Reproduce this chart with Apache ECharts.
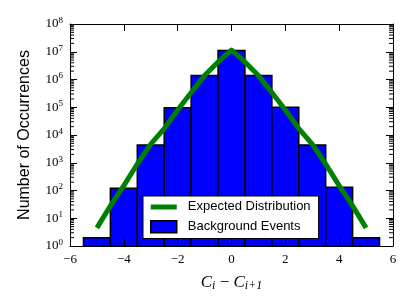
<!DOCTYPE html>
<html>
<head>
<meta charset="utf-8">
<script src="https://cdn.jsdelivr.net/npm/echarts@6/dist/echarts.min.js"></script>
<style>html,body{margin:0;padding:0;background:#fff}#c{width:415px;height:308px}</style>
</head>
<body>
<div id="c"></div>
<script>
// Histogram bars (bin centers, counts)
const barCenters = [-5, -4, -3, -2, -1, 0, 1, 2, 3, 4, 5];
const barCounts = [2, 120, 4400, 95000, 1400000, 11000000, 1400000, 100000, 4400, 130, 2];
// Expected distribution curve
const curveX = [-5, -4.5, -4, -3.5, -3, -2.5, -2, -1.5, -1, -0.5, 0, 0.5, 1, 1.5, 2, 2.5, 3, 3.5, 4, 4.5, 5];
const curveY = [4.5, 28, 150, 900, 4700, 17000, 80000, 340000, 1380000, 4300000, 11500000,
                4300000, 1380000, 340000, 80000, 17000, 4700, 900, 150, 28, 4.5];
// Axis ranges / ticks
const xMin = -6, xMax = 6, xStep = 2;
const yMin = 1, yMax = 1e8;
const minorMultipliers = [2, 3, 4, 5, 6, 7, 8, 9];
const decades = [1, 10, 100, 1000, 1e4, 1e5, 1e6, 1e7];

const minorVals = [];
decades.forEach(d => minorMultipliers.forEach(m => minorVals.push([xMin, m * d])));

const chart = echarts.init(document.getElementById('c'), null, {renderer: 'canvas'});
const serif = 'Liberation Serif';
const sans = 'Liberation Sans';
const minus = s => String(s).replace('-', '\u2212');

const axLine = {show: true, onZero: false, lineStyle: {color: '#000', width: 1}};
const axTick = {show: true, inside: true, length: 7, lineStyle: {color: '#000', width: 1}};

const yLabel = {
  show: true, margin: 7,
  formatter: v => '{b|10}{s|' + Math.round(Math.log10(v)) + '}',
  rich: {
    b: {fontFamily: serif, fontSize: 13, color: '#000'},
    s: {fontFamily: serif, fontSize: 9, color: '#000', padding: [0, 0, 7, 0]}
  }
};

chart.setOption({
  animation: false,
  grid: {left: 70, right: 22, top: 24, bottom: 62},
  legend: {
    orient: 'vertical', left: 143, top: 196, z: 20,
    backgroundColor: '#fff', borderColor: '#000', borderWidth: 1,
    padding: [4, 8, 5, 7], itemWidth: 26, itemHeight: 12, itemGap: 7,
    textStyle: {fontFamily: sans, fontSize: 13, color: '#000', padding: [0, 0, 0, 6]},
    data: [
      {name: 'Expected Distribution', icon: 'path://M0,0L0.01,0M0,4L26,4L26,9L0,9ZM0,12L0.01,12', itemStyle: {color: '#008000', borderWidth: 0}},
      {name: 'Background Events', icon: 'rect', itemStyle: {color: '#0000ff', borderColor: '#000', borderWidth: 1.5}}
    ]
  },
  xAxis: [
    {
      type: 'value', min: xMin, max: xMax, interval: xStep, position: 'bottom', z: 10,
      axisLine: axLine, axisTick: axTick,
      axisLabel: {fontFamily: serif, fontSize: 13, color: '#000', margin: 7, formatter: v => minus(v)},
      splitLine: {show: false},
      name: '{c|C}{sb|i}{m| \u2212 }{c|C}{sb|i+1}',
      nameLocation: 'middle', nameGap: 27,
      nameTextStyle: {
        rich: {
          c: {fontFamily: serif, fontStyle: 'italic', fontSize: 17, color: '#000'},
          m: {fontFamily: serif, fontSize: 17, color: '#000'},
          sb: {fontFamily: serif, fontStyle: 'italic', fontSize: 12, color: '#000', padding: [7, 0, 0, 0]}
        }
      }
    },
    {
      type: 'value', min: xMin, max: xMax, interval: xStep, position: 'top', z: 10,
      axisLine: axLine, axisTick: axTick,
      axisLabel: {show: false}, splitLine: {show: false}
    }
  ],
  yAxis: [
    {
      type: 'log', logBase: 10, min: yMin, max: yMax, position: 'left', z: 10,
      axisLine: axLine, axisTick: axTick,
      axisLabel: yLabel, splitLine: {show: false},
      name: 'Number of Occurrences', nameLocation: 'middle', nameGap: 37,
      nameTextStyle: {fontFamily: sans, fontSize: 16, color: '#000'}
    },
    {
      type: 'log', logBase: 10, min: yMin, max: yMax, position: 'right', z: 10,
      axisLine: axLine, axisTick: axTick,
      axisLabel: {show: false}, splitLine: {show: false}
    }
  ],
  series: [
    {
      name: 'Background Events', type: 'custom', z: 2,
      xAxisIndex: 0, yAxisIndex: 0,
      itemStyle: {color: '#0000ff', borderColor: '#000', borderWidth: 1.5},
      encode: {x: 0, y: 1},
      data: barCenters.map((c, i) => [c, barCounts[i]]),
      renderItem: (params, api) => {
        const x = api.value(0), y = api.value(1);
        const p1 = api.coord([x - 0.5, y]);
        const p2 = api.coord([x + 0.5, yMin]);
        return {
          type: 'rect',
          shape: {x: p1[0], y: p1[1], width: p2[0] - p1[0], height: p2[1] - p1[1]},
          style: {fill: '#0000ff', stroke: '#000', lineWidth: 1.5}
        };
      }
    },
    {
      name: 'Expected Distribution', type: 'line', z: 3,
      xAxisIndex: 0, yAxisIndex: 0,
      symbol: 'none', color: '#008000',
      lineStyle: {color: '#008000', width: 5, join: 'round'},
      data: curveX.map((x, i) => [x, curveY[i]])
    },
    {
      name: 'minorTicks', type: 'custom', z: 12, silent: true,
      xAxisIndex: 0, yAxisIndex: 0,
      encode: {x: 0, y: 1},
      data: minorVals,
      renderItem: (params, api) => {
        const v = api.value(1);
        const l = api.coord([xMin, v]);
        const r = api.coord([xMax, v]);
        return {
          type: 'group',
          children: [
            {type: 'line', shape: {x1: l[0], y1: l[1], x2: l[0] + 4, y2: l[1]}, style: {stroke: '#000', lineWidth: 1}},
            {type: 'line', shape: {x1: r[0], y1: r[1], x2: r[0] - 4, y2: r[1]}, style: {stroke: '#000', lineWidth: 1}}
          ]
        };
      }
    }
  ]
});
</script>
</body>
</html>
